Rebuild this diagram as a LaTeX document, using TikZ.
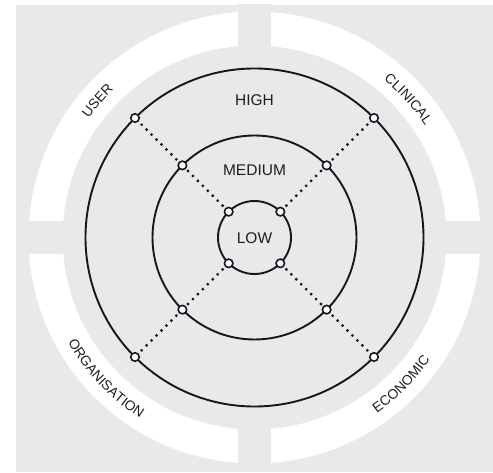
\documentclass[tikz,border=0pt]{standalone}
\usepackage{fontspec}
\setmainfont{Liberation Sans}
\usetikzlibrary{decorations.text}
\definecolor{bg}{RGB}{233,233,233}
\definecolor{ink}{RGB}{22,22,32}
\definecolor{txt}{RGB}{30,30,30}
\newcommand\outerfont{\fontsize{13.8}{15}\selectfont\color{txt}}
\begin{document}
\begin{tikzpicture}[x=1pt,y=1pt,
 ring/.style={draw=ink,line width=1.9pt},
 pin/.style={circle,draw=ink,fill=white,line width=1.6pt,inner sep=0pt,minimum size=8.5pt},
 spoke/.style={draw=ink,line width=3.1pt,line cap=round,dash pattern=on 0pt off 7pt,shorten <=3.5pt,shorten >=1pt},
 level/.style={text=txt,font=\fontsize{15.5}{18}\selectfont,inner sep=0pt},
 arclabel/.style={decorate,decoration={text along path,text align=center,text={|\outerfont|#1}}}]
\useasboundingbox (0,0) rectangle (493,472);
\fill[bg] (16,0) rectangle (493,467);
\begin{scope}[shift={(254.5,234.5)}]
 % outer white band with four gaps
 \fill[white,even odd rule] (0,0) circle (226) (0,0) circle (192);
 \fill[bg] (-16.5,185) rectangle (16.5,233);
 \fill[bg] (-16.5,-185) rectangle (16.5,-233);
 \fill[bg] (185,-16.5) rectangle (233,16.5);
 \fill[bg] (-185,-16.5) rectangle (-233,16.5);
 % rings
 \draw[ring] (0,0) circle (169);
 \draw[ring] (0,0) circle (102);
 \draw[ring] (0,0) circle (36.5);
 % pins
 \foreach \a/\n in {135/1,45/2,225/3,315/4}{
   \node[pin] (h\n) at (\a:169) {};
   \node[pin] (m\n) at (\a:102) {};
   \node[pin] (l\n) at (\a:36.5) {};
 }
 \foreach \n in {1,2,3,4}{
   \draw[spoke] (l\n) -- (m\n);
   \draw[spoke] (m\n) -- (h\n);
 }
 % level labels
 \node[level] (high) at (0,137) {HIGH};
 \node[level] (medium) at (0,67.5) {MEDIUM};
 \node[level] (low) at (0,-1) {LOW};
 % outer labels
 \path[arclabel=USER] (179:204) arc[start angle=179,end angle=99,radius=204];
 \path[arclabel=CLINICAL] (82:204) arc[start angle=82,end angle=2,radius=204];
 \path[arclabel=ORGANISATION] (183.5:214) arc[start angle=183.5,end angle=263.5,radius=214];
 \path[arclabel=ECONOMIC] (275:214) arc[start angle=275,end angle=355,radius=214];
\end{scope}
\end{tikzpicture}
\end{document}
